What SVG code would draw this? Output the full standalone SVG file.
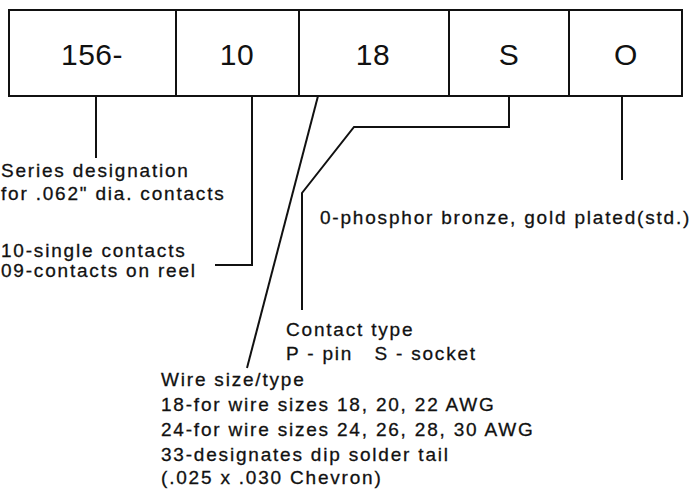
<svg xmlns="http://www.w3.org/2000/svg" width="694" height="489" viewBox="0 0 694 489">
<style>
.box{fill:#fff;stroke:#111;stroke-width:2}
.code{font-family:"Liberation Sans",Arial,sans-serif;font-size:30px;fill:#111;text-anchor:middle;letter-spacing:0.5px}
.lbl{font-family:"Liberation Sans",Arial,sans-serif;font-size:19px;fill:#111;stroke:#111;stroke-width:0.3;letter-spacing:1.8px}
.ln{fill:none;stroke:#111;stroke-width:2}
</style>
<rect width="694" height="489" fill="#fff"/>
<g id="node-series"><rect class="box" x="9" y="10" width="167" height="86"/><text class="code" x="92" y="65">156-</text></g>
<g id="node-contacts"><rect class="box" x="176" y="10" width="123" height="86"/><text class="code" x="237" y="65">10</text></g>
<g id="node-wire"><rect class="box" x="299" y="10" width="150" height="86"/><text class="code" x="373" y="65">18</text></g>
<g id="node-type"><rect class="box" x="449" y="10" width="120" height="86"/><text class="code" x="509" y="65">S</text></g>
<g id="node-plating"><rect class="box" x="569" y="10" width="113" height="86"/><text class="code" x="626" y="65">O</text></g>
<g id="connectors">
<polyline class="ln" points="96,96 96,158"/>
<polyline class="ln" points="252,96 252,265 215,265"/>
<polyline class="ln" points="318,96 247,368"/>
<polyline class="ln" points="509,96 509,127 354,127 302,193 302,310"/>
<polyline class="ln" points="622,96 622,180"/>
</g>
<g id="labels">
<text class="lbl" x="1" y="177">Series designation</text>
<text class="lbl" x="1" y="200">for .062" dia. contacts</text>
<text class="lbl" x="1" y="257">10-single contacts</text>
<text class="lbl" x="1" y="277">09-contacts on reel</text>
<text class="lbl" x="320" y="224">0-phosphor bronze, gold plated(std.)</text>
<text class="lbl" x="286" y="336">Contact type</text>
<text class="lbl" x="286" y="360" xml:space="preserve">P - pin   S - socket</text>
<text class="lbl" x="161" y="386">Wire size/type</text>
<text class="lbl" x="161" y="411">18-for wire sizes 18, 20, 22 AWG</text>
<text class="lbl" x="161" y="436">24-for wire sizes 24, 26, 28, 30 AWG</text>
<text class="lbl" x="161" y="461">33-designates dip solder tail</text>
<text class="lbl" x="161" y="484">(.025 x .030 Chevron)</text>
</g>
</svg>
